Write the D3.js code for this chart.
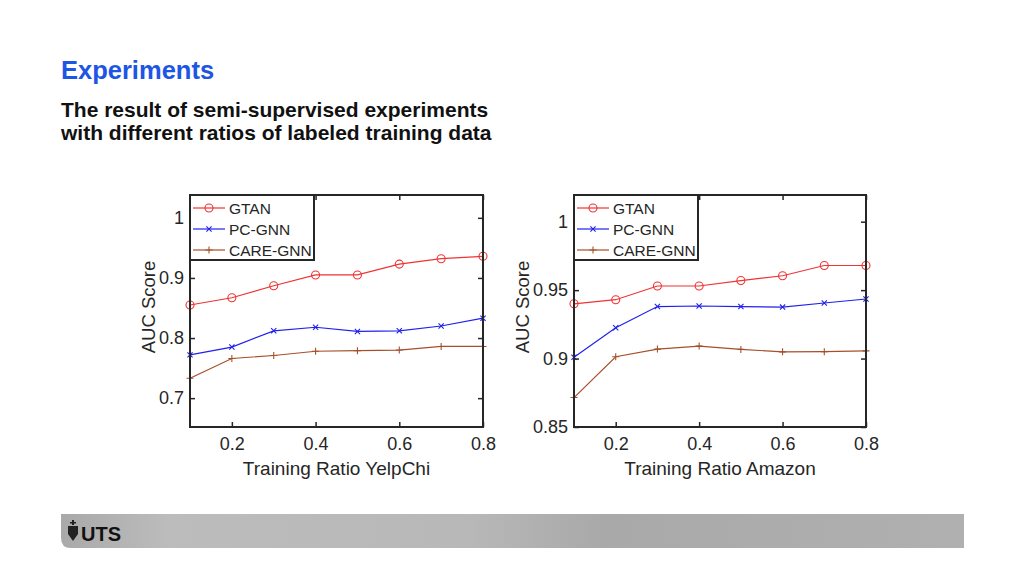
<!DOCTYPE html>
<html>
<head>
<meta charset="utf-8">
<script src="https://cdn.jsdelivr.net/npm/d3@7"></script>
<style>
  html, body { margin: 0; padding: 0; background: #ffffff; }
  svg { display: block; font-family: "Liberation Sans", Arial, sans-serif; }
</style>
</head>
<body>
<svg id="chart" width="1024" height="576"></svg>
<script>
// ---------- DATA ----------
const ratios = [0.1, 0.2, 0.3, 0.4, 0.5, 0.6, 0.7, 0.8];
const seriesNames = ["GTAN", "PC-GNN", "CARE-GNN"];

const yelpGTAN = [0.855, 0.867, 0.887, 0.905, 0.905, 0.923, 0.932, 0.936];
const yelpPCGNN = [0.772, 0.785, 0.812, 0.818, 0.811, 0.812, 0.820, 0.833];
const yelpCARE = [0.733, 0.766, 0.771, 0.778, 0.779, 0.780, 0.786, 0.786];

const amzGTAN = [0.940, 0.943, 0.953, 0.953, 0.957, 0.9605, 0.968, 0.968];
const amzPCGNN = [0.901, 0.9225, 0.938, 0.9384, 0.938, 0.9376, 0.9406, 0.9435];
const amzCARE = [0.8715, 0.9013, 0.9069, 0.9091, 0.9067, 0.9049, 0.905, 0.9056];

const xTicks = [0.2, 0.4, 0.6, 0.8];
const yelpYTicks = [0.7, 0.8, 0.9, 1];
const amzYTicks = [0.85, 0.9, 0.95, 1];
const yelpYLabels = ["0.7", "0.8", "0.9", "1"];
const amzYLabels = ["0.85", "0.9", "0.95", "1"];

const titleText = "Experiments";
const subtitleLines = ["The result of semi-supervised experiments", "with different ratios of labeled training data"];

// ---------- STYLE ----------
const colors = ["#f03333", "#2020ee", "#a5502a"];
const markers = ["circle", "cross", "plus"];

const svg = d3.select("#chart");

// Title
svg.append("text").attr("x", 61).attr("y", 79)
  .attr("font-size", 25.5).attr("font-weight", "bold").attr("fill", "#1d55e5")
  .text(titleText);
subtitleLines.forEach((t, i) => {
  svg.append("text").attr("x", 61).attr("y", 117 + i * 23)
    .attr("font-size", 21).attr("font-weight", "bold").attr("fill", "#111")
    .text(t);
});

// Footer band
const defs = svg.append("defs");
const grad = defs.append("linearGradient").attr("id", "footGrad").attr("x1", "0").attr("x2", "1");
grad.append("stop").attr("offset", "0").attr("stop-color", "#a9a9a9");
grad.append("stop").attr("offset", "0.12").attr("stop-color", "#bcbcbc");
grad.append("stop").attr("offset", "0.45").attr("stop-color", "#b8b8b8");
grad.append("stop").attr("offset", "0.6").attr("stop-color", "#a9a9a9");
grad.append("stop").attr("offset", "1").attr("stop-color", "#b0b0b0");
svg.append("path")
  .attr("d", "M61,514 L964,514 L964,548 L71,548 Q61,548 61,538 Z")
  .attr("fill", "url(#footGrad)");
// UTS logo
const logo = svg.append("g").attr("transform", "translate(73,532)");
logo.append("path").attr("d", "M-5,-6 L5,-6 L5,2 L0,9 L-5,2 Z").attr("fill", "#222");
logo.append("rect").attr("x", -1).attr("y", -12).attr("width", 2).attr("height", 5).attr("fill", "#222");
logo.append("rect").attr("x", -3).attr("y", -10).attr("width", 6).attr("height", 1.5).attr("fill", "#222");
svg.append("text").attr("x", 81).attr("y", 541)
  .attr("font-size", 20).attr("font-weight", "bold").attr("fill", "#111")
  .attr("font-family", "'Liberation Sans Narrow', 'Liberation Sans', Arial, sans-serif")
  .text("UTS");

function drawMarker(g, type, x, y, color) {
  if (type === "circle") {
    g.append("circle").attr("cx", x).attr("cy", y).attr("r", 4)
      .attr("fill", "none").attr("stroke", color).attr("stroke-width", 1.1);
  } else if (type === "cross") {
    const s = 2.6;
    g.append("path").attr("d", `M${x - s},${y - s}L${x + s},${y + s}M${x - s},${y + s}L${x + s},${y - s}`)
      .attr("stroke", color).attr("stroke-width", 1.1).attr("fill", "none");
  } else {
    const s = 3.5;
    g.append("path").attr("d", `M${x - s},${y}L${x + s},${y}M${x},${y - s}L${x},${y + s}`)
      .attr("stroke", color).attr("stroke-width", 1.1).attr("fill", "none");
  }
}

function drawPanel(opts) {
  const { left, right, top, bottom, yDomain, yTicks, yLabels, series, xLabel, legendRight, ylabelOffset } = opts;
  const x = d3.scaleLinear().domain([0.1, 0.8]).range([left, right]);
  const y = d3.scaleLinear().domain(yDomain).range([bottom, top]);
  const g = svg.append("g");
  const axisColor = "#262626";
  const tickLen = 5;

  // series
  series.forEach((vals, si) => {
    const line = d3.line().x((d, i) => x(ratios[i])).y(d => y(d));
    g.append("path").datum(vals).attr("d", line)
      .attr("fill", "none").attr("stroke", colors[si]).attr("stroke-width", 1.2);
    vals.forEach((v, i) => drawMarker(g, markers[si], x(ratios[i]), y(v), colors[si]));
  });

  // axes
  const fontSize = 18;
  const bottomAxis = d3.axisBottom(x).tickValues(xTicks).tickSize(-tickLen).tickFormat(d3.format(".1f")).tickPadding(10);
  const topAxis = d3.axisTop(x).tickValues(xTicks).tickSize(-tickLen).tickFormat("");
  const leftAxis = d3.axisLeft(y).tickValues(yTicks).tickSize(-tickLen).tickFormat((d, i) => yLabels[i]).tickPadding(6);
  const rightAxis = d3.axisRight(y).tickValues(yTicks).tickSize(-tickLen).tickFormat("");

  const gb = g.append("g").attr("transform", `translate(0,${bottom})`).call(bottomAxis);
  const gt = g.append("g").attr("transform", `translate(0,${top})`).call(topAxis);
  const gl = g.append("g").attr("transform", `translate(${left},0)`).call(leftAxis);
  const gr = g.append("g").attr("transform", `translate(${right},0)`).call(rightAxis);
  [gb, gt, gl, gr].forEach(a => {
    a.select(".domain").remove();
    a.selectAll(".tick line").attr("stroke", axisColor).attr("stroke-width", 1.5);
    a.selectAll(".tick text").attr("fill", axisColor).attr("font-size", fontSize)
      .attr("font-family", "'Liberation Sans', Arial, sans-serif");
  });

  // box
  g.append("rect").attr("x", left).attr("y", top).attr("width", right - left).attr("height", bottom - top)
    .attr("fill", "none").attr("stroke", axisColor).attr("stroke-width", 2);

  // axis labels
  g.append("text").attr("x", (left + right) / 2).attr("y", bottom + 48)
    .attr("text-anchor", "middle").attr("font-size", 19).attr("fill", axisColor).text(xLabel);
  g.append("text").attr("transform", `translate(${left - ylabelOffset},${(top + bottom) / 2 - 4}) rotate(-90)`)
    .attr("text-anchor", "middle").attr("font-size", 18.5).attr("fill", axisColor).text("AUC Score");

  // legend
  const lg = g.append("g");
  lg.append("rect").attr("x", left).attr("y", top).attr("width", legendRight - left).attr("height", 65)
    .attr("fill", "#fff").attr("stroke", axisColor).attr("stroke-width", 2);
  seriesNames.forEach((name, si) => {
    const ly = top + 13 + si * 21;
    lg.append("line").attr("x1", left + 3).attr("x2", left + 35).attr("y1", ly).attr("y2", ly)
      .attr("stroke", colors[si]).attr("stroke-width", 1.2);
    drawMarker(lg, markers[si], left + 19, ly, colors[si]);
    lg.append("text").attr("x", left + 39).attr("y", ly + 5.5)
      .attr("font-size", 15.5).attr("fill", axisColor).text(name);
  });
}

drawPanel({
  left: 190, right: 483, top: 195, bottom: 427,
  yDomain: [0.652, 1.038], yTicks: yelpYTicks, yLabels: yelpYLabels,
  series: [yelpGTAN, yelpPCGNN, yelpCARE],
  xLabel: "Training Ratio YelpChi", legendRight: 314, ylabelOffset: 35
});
drawPanel({
  left: 574, right: 866, top: 195, bottom: 427,
  yDomain: [0.85, 1.0195], yTicks: amzYTicks, yLabels: amzYLabels,
  series: [amzGTAN, amzPCGNN, amzCARE],
  xLabel: "Training Ratio Amazon", legendRight: 698, ylabelOffset: 45
});
</script>
</body>
</html>
